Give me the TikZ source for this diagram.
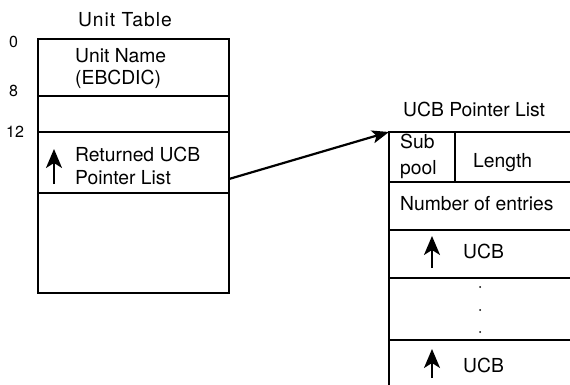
\documentclass[tikz,border=0pt]{standalone}
\usepackage{fontspec}
\setmainfont{TeX Gyre Heros}
\newfontfamily\titlefont[LetterSpace=5]{TeX Gyre Heros}
\usetikzlibrary{arrows.meta,calc}
\begin{document}
\begin{tikzpicture}[x=1pt,y=-1pt,
  cell/.style={draw,line width=2.2pt,inner sep=0pt,outer sep=0pt,anchor=north west},
  txt/.style={inner sep=0pt,anchor=base west,font=\fontsize{19.3}{23}\selectfont},
  lbl/.style={inner sep=0pt,anchor=base west,font=\fontsize{16}{19}\selectfont},
  uparrow/.style={line width=2pt,-{Stealth[length=19pt,width=16pt,inset=5pt]}},
  link/.style={line width=2.2pt,-{Stealth[length=17pt,width=13pt,inset=4pt]}},
  dot/.style={circle,fill,inner sep=0pt,minimum size=2pt}]
\useasboundingbox (0,0) rectangle (570,385);
\clip (0,0) rectangle (570,385);
% Unit table
\node[cell,minimum width=191pt,minimum height=57pt] (ut0) at (38,39) {};
\node[cell,minimum width=191pt,minimum height=36pt] (ut8) at (38,96) {};
\node[cell,minimum width=191pt,minimum height=61pt] (ut12) at (38,132) {};
\node[cell,minimum width=191pt,minimum height=100pt] (utrest) at (38,193) {};
\node[txt,font=\titlefont\fontsize{19.3}{23}\selectfont] (tut) at (78,27) {Unit Table};
\node[lbl] (l0) at (9,48) {0};
\node[lbl] (l8) at (9,97) {8};
\node[lbl] (l12) at (6,138) {12};
\node[txt] (un) at (75,63) {Unit Name};
\node[txt] (eb) at (75,85) {(EBCDIC)};
\node[txt] (ret) at (75,161) {Returned UCB};
\node[txt] (pl) at (75,184) {Pointer List};
\draw[uparrow] (54,184) -- (54,149);
% UCB pointer list
\node[cell,minimum width=66pt,minimum height=50pt] (sub) at (389,132) {};
\node[cell,minimum width=125pt,minimum height=50pt] (len) at (455,132) {};
\node[cell,minimum width=191pt,minimum height=48pt] (num) at (389,182) {};
\node[cell,minimum width=191pt,minimum height=48pt] (ucb1) at (389,230) {};
\node[cell,minimum width=191pt,minimum height=62pt] (dots) at (389,278) {};
\node[cell,minimum width=191pt,minimum height=60pt] (ucb2) at (389,340) {};
\node[txt] (tucb) at (403,117) {UCB Pointer List};
\node[txt] (tsub) at (400,149) {Sub};
\node[txt] (tpool) at (400,175) {pool};
\node[txt] (tlen) at (473,167) {Length};
\node[txt] (tnum) at (400,210) {Number of entries};
\node[txt] (tu1) at (463,258) {UCB};
\node[txt] (tu2) at (463,372) {UCB};
\draw[uparrow] (432,268) -- (432,236);
\draw[uparrow] (432,378) -- (432,349);
\node[dot] (d1) at (480,287) {};
\node[dot] (d2) at (480,310) {};
\node[dot] (d3) at (480,332) {};
% connector
\coordinate (src) at (229,179);
\draw[link] (src) -- (sub.north west);
\end{tikzpicture}
\end{document}
